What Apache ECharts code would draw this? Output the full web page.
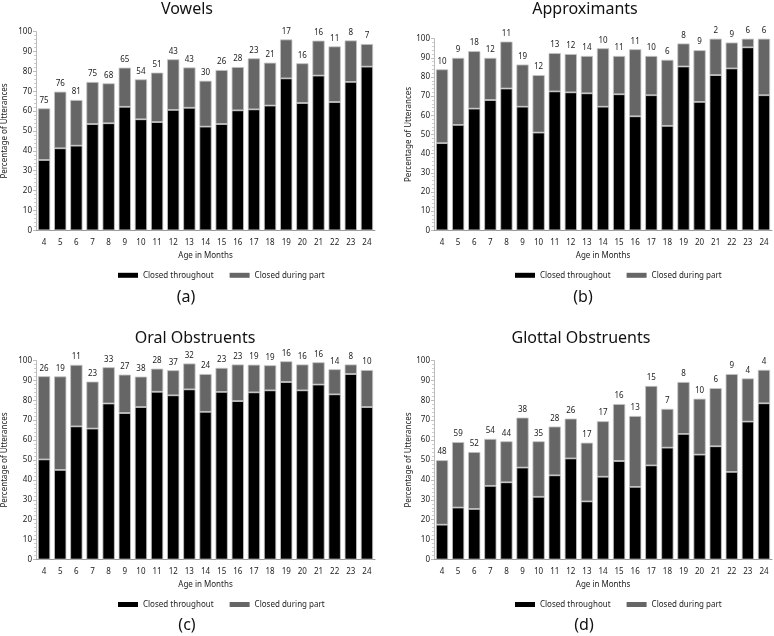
<!DOCTYPE html>
<html>
<head>
<meta charset="utf-8">
<script src="https://cdn.jsdelivr.net/npm/echarts@6/dist/echarts.min.js"></script>
<style>html,body{margin:0;padding:0;background:#fff}#c{width:774px;height:636px}</style>
</head>
<body>
<div id="c"></div>
<script>
const months = ['4','5','6','7','8','9','10','11','12','13','14','15','16','17','18','19','20','21','22','23','24'];
const yTicks = [0,10,20,30,40,50,60,70,80,90,100];

const vowelsThroughout = [35.4,41.3,42.6,53.5,53.9,62.2,55.9,54.5,60.6,61.7,52.2,53.5,60.4,60.9,62.8,76.5,64.1,77.9,64.6,74.7,82.4];
const vowelsPart       = [26.0,28.5,23.0,21.2,20.1,19.7,20.1,24.9,25.5,20.3,23.1,27.2,21.8,25.7,21.6,19.6,20.0,17.6,28.0,20.9,11.4];
const vowelsN          = [75,76,81,75,68,65,54,51,43,43,30,26,28,23,21,17,16,16,11,8,7];

const approxThroughout = [45.5,55.0,63.5,68.0,74.0,64.5,51.0,72.5,72.0,71.5,64.5,71.0,59.5,70.5,54.5,85.5,67.0,81.0,84.5,95.5,70.5];
const approxPart       = [38.5,35.0,30.0,22.0,24.5,22.0,30.0,20.0,20.0,19.5,30.5,20.0,35.0,20.5,34.5,12.0,27.0,19.0,13.5,4.5,29.5];
const approxN          = [10,9,18,12,11,19,12,13,12,14,10,11,11,10,6,8,9,2,9,6,6];

const oralThroughout = [50.3,45.0,66.9,65.8,78.4,73.6,76.6,84.3,82.5,85.5,74.2,84.2,79.6,84.0,85.0,89.2,85.0,87.9,83.0,93.2,76.6];
const oralPart       = [41.8,47.0,30.9,23.6,18.2,19.3,15.3,11.6,12.6,13.0,19.0,12.1,18.4,13.9,12.6,10.4,13.0,11.2,12.6,4.8,18.6];
const oralN          = [26,19,11,23,33,27,38,28,37,32,24,23,23,19,19,16,16,16,14,8,10];

const glottalThroughout = [17.5,26.1,25.4,37.0,38.8,46.2,31.5,42.3,50.8,29.2,41.6,49.5,36.5,47.3,56.2,63.1,52.7,56.9,44.0,69.3,78.5];
const glottalPart       = [32.4,32.9,28.6,23.6,20.6,25.1,27.9,24.5,20.0,29.5,27.9,28.6,35.6,39.9,19.5,26.1,28.1,29.2,49.2,21.7,16.8];
const glottalN          = [48,59,52,54,44,38,35,28,26,17,17,16,13,15,7,8,10,6,9,4,4];

const panelTitles = ['Vowels','Approximants','Oral Obstruents','Glottal Obstruents'];
const captions = ['(a)','(b)','(c)','(d)'];
const seriesNames = ['Closed throughout','Closed during part'];

const panels = [
  {t: vowelsThroughout, p: vowelsPart, n: vowelsN},
  {t: approxThroughout, p: approxPart, n: approxN},
  {t: oralThroughout, p: oralPart, n: oralN},
  {t: glottalThroughout, p: glottalPart, n: glottalN}
];

const FONT = 'Noto Sans';
const layout = [
  {left: 36, top: 31.7, width: 339, height: 198.6, nameGap: 27, legendLeft: 113, titleX: 187, capX: 186},
  {left: 434, top: 38.7, width: 338, height: 191.6, nameGap: 21.5, legendLeft: 510, titleX: 585, capX: 583},
  {left: 36, top: 360.5, width: 339, height: 199, nameGap: 27, legendLeft: 113, titleX: 195, capX: 187},
  {left: 434, top: 360.5, width: 338, height: 199, nameGap: 21.5, legendLeft: 510, titleX: 581, capX: 584}
];

const grid = [], xAxis = [], yAxis = [], series = [], legend = [], graphic = [];
layout.forEach((L, i) => {
  grid.push({left: L.left, top: L.top, width: L.width, height: L.height, containLabel: false});
  xAxis.push({
    type: 'category', gridIndex: i, data: months,
    name: 'Age in Months', nameLocation: 'middle', nameGap: 21,
    nameTextStyle: {fontFamily: FONT, fontSize: 8, color: '#222'},
    axisLine: {lineStyle: {color: '#999', width: 1}},
    axisTick: {show: false},
    axisLabel: {interval: 0, fontFamily: FONT, fontSize: 8, color: '#222', margin: 8}
  });
  yAxis.push({
    type: 'value', gridIndex: i, min: yTicks[0], max: yTicks[yTicks.length - 1], interval: 10,
    name: 'Percentage of Utterances', nameLocation: 'middle', nameGap: L.nameGap,
    nameTextStyle: {fontFamily: FONT, fontSize: 8, color: '#222'},
    axisLine: {show: true, lineStyle: {color: '#bbb', width: 1}},
    axisTick: {show: true, length: 3, lineStyle: {color: '#bbb'}},
    minorTick: {show: true, splitNumber: 5, length: 2, lineStyle: {color: '#ccc'}},
    splitLine: {show: false},
    axisLabel: {fontFamily: FONT, fontSize: 8, color: '#222', margin: 4}
  });
  const P = panels[i];
  series.push({
    name: seriesNames[0], type: 'bar', stack: 's' + i, xAxisIndex: i, yAxisIndex: i,
    data: P.t, barCategoryGap: '24%',
    itemStyle: {color: '#000', borderColor: '#c4c4c4', borderWidth: 0.8}
  });
  series.push({
    name: seriesNames[1], type: 'bar', stack: 's' + i, xAxisIndex: i, yAxisIndex: i,
    data: P.p, barCategoryGap: '24%',
    itemStyle: {color: '#666', borderColor: '#c4c4c4', borderWidth: 0.8},
    label: {show: true, position: 'top', distance: 4, fontFamily: FONT, fontSize: 8, color: '#222',
      formatter: (d) => String(P.n[d.dataIndex])}
  });
  legend.push({
    data: seriesNames, left: L.legendLeft, top: L.top + L.height + 36,
    itemWidth: 20, itemHeight: 5, itemGap: 16, icon: 'rect',
    itemStyle: {borderWidth: 0},
    textStyle: {fontFamily: FONT, fontSize: 8, color: '#222'},
    selectedMode: false
  });
  graphic.push({
    type: 'text', x: L.titleX, y: i < 2 ? 9 : 338,
    style: {text: panelTitles[i], fontFamily: FONT, fontSize: 16, fill: '#111', textAlign: 'center', textVerticalAlign: 'middle'}
  });
  graphic.push({
    type: 'text', x: L.capX, y: i < 2 ? 297.3 : 625,
    style: {text: captions[i], fontFamily: FONT, fontSize: 16, fill: '#111', textAlign: 'center', textVerticalAlign: 'middle'}
  });
});

const chart = echarts.init(document.getElementById('c'), null, {renderer: 'canvas'});
chart.setOption({
  animation: false,
  backgroundColor: '#fff',
  grid, xAxis, yAxis, series, legend, graphic
});
</script>
</body>
</html>
